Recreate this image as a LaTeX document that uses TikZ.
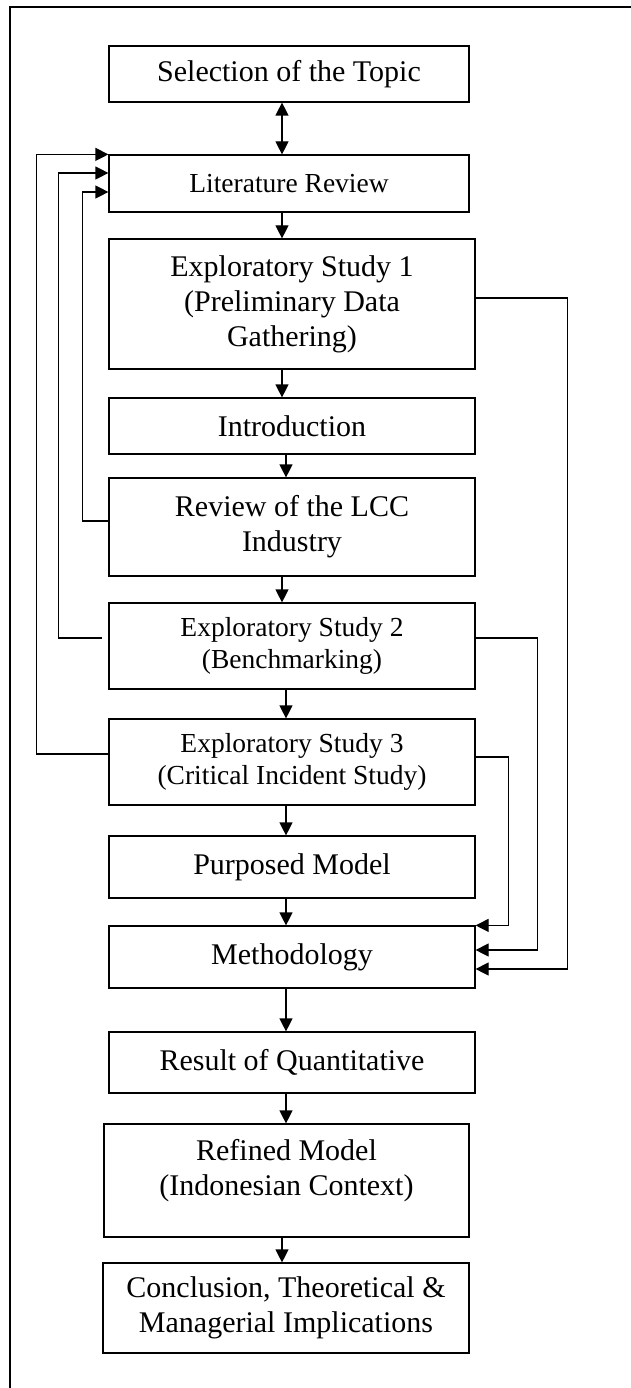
\documentclass[tikz,border=0pt]{standalone}
\usepackage{fontspec}
\setmainfont{Liberation Serif}
\usetikzlibrary{arrows.meta}

\begin{document}
\begin{tikzpicture}[x=1pt,y=-1pt,
    stage/.style={draw,line width=1.2pt,inner sep=0pt,align=center,
      font={\fontsize{30}{35}\selectfont}},
    small/.style={font={\fontsize{27.5}{32}\selectfont}},
    arr/.style={line width=1.2pt,-{Triangle[length=13pt,width=13pt]}},
    dbl/.style={line width=1.2pt,{Triangle[length=13pt,width=13pt]}-{Triangle[length=13pt,width=13pt]}}]
  \useasboundingbox (0,0) rectangle (631,1388);
  \draw[line width=1.2pt] (10,1388) -- (10,7) -- (631,7);
  \coordinate (ax1) at (282,0);
  \coordinate (ax2) at (286,0);
  \node[stage,minimum width=360pt,minimum height=56pt] (sel) at (289,74) {Selection of the Topic};
  \node[stage,small,minimum width=360pt,minimum height=57pt] (lit) at (289,183.5) {Literature Review};
  \node[stage,minimum width=366pt,minimum height=130pt] (es1) at (292,304) {Exploratory Study 1\\(Preliminary Data\\Gathering)};
  \node[stage,minimum width=366pt,minimum height=56pt] (intro) at (292,426) {Introduction};
  \node[stage,minimum width=366pt,minimum height=98pt] (review) at (292,527) {Review of the LCC\\Industry};
  \node[stage,small,minimum width=366pt,minimum height=86pt] (es2) at (292,646) {Exploratory Study 2\\(Benchmarking)};
  \node[stage,small,minimum width=366pt,minimum height=86pt] (es3) at (292,762) {Exploratory Study 3\\(Critical Incident Study)};
  \node[stage,minimum width=366pt,minimum height=62pt] (purp) at (292,867) {Purposed Model};
  \node[stage,minimum width=366pt,minimum height=62pt] (meth) at (292,957) {Methodology};
  \node[stage,minimum width=366pt,minimum height=61pt] (result) at (292,1062.5) {Result of Quantitative};
  \node[stage,minimum width=365pt,minimum height=113pt,
    label={[align=center,font={\fontsize{30}{35}\selectfont},yshift=10pt]center:Refined Model\\(Indonesian Context)}] (refined) at (286.5,1180.5) {};
  \node[stage,minimum width=366pt,minimum height=90pt] (concl) at (286,1308) {Conclusion, Theoretical \&\\Managerial Implications};
  \draw[dbl] (sel.south -| ax1) -- (lit.north -| ax1);
  \draw[arr] (lit.south -| ax1) -- (es1.north -| ax1);
  \draw[arr] (es1.south -| ax1) -- (intro.north -| ax1);
  \draw[arr] (intro.south -| ax2) -- (review.north -| ax2);
  \draw[arr] (review.south -| ax1) -- (es2.north -| ax1);
  \draw[arr] (es2.south -| ax2) -- (es3.north -| ax2);
  \draw[arr] (es3.south -| ax2) -- (purp.north -| ax2);
  \draw[arr] (purp.south -| ax2) -- (meth.north -| ax2);
  \draw[arr] (meth.south -| ax2) -- (result.north -| ax2);
  \draw[arr] (result.south -| ax2) -- (refined.north -| ax2);
  \draw[arr] (refined.south -| ax1) -- (concl.north -| ax1);
  \draw[arr] ([yshift=8pt]es3.west) -| ([xshift=-72pt]lit.north west) -- (lit.north west);
  \draw[arr] ([xshift=-6pt,yshift=8pt]es2.west) -| ([xshift=-50pt,yshift=10.5pt]lit.west) -- ([yshift=10.5pt]lit.west);
  \draw[arr] ([yshift=6pt]review.west) -| ([xshift=-26pt,yshift=-8.5pt]lit.west) -- ([yshift=-8.5pt]lit.west);
  \draw[arr] ([yshift=6pt]es1.east) -| ([xshift=92pt,yshift=-12pt]meth.east) -- ([yshift=-12pt]meth.east);
  \draw[arr] ([yshift=8pt]es2.east) -| ([xshift=62pt,yshift=7pt]meth.east) -- ([yshift=7pt]meth.east);
  \draw[arr] ([yshift=5pt]es3.east) -| ([xshift=33pt]meth.north east) -- (meth.north east);
\end{tikzpicture}
\end{document}
